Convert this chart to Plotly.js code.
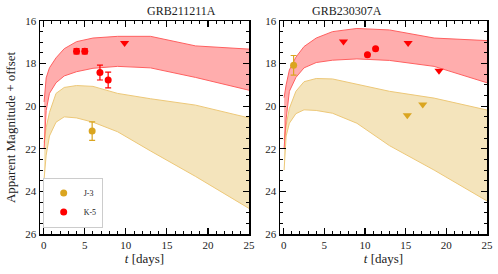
<!DOCTYPE html>
<html>
<head>
<meta charset="utf-8">
<script src="https://cdn.plot.ly/plotly-3.0.1.min.js"></script>
<style>html,body{margin:0;padding:0;background:#fff;}#chart{width:498px;height:274px;}</style>
</head>
<body>
<div id="chart"></div>
<script>
// Model time grid (days)
const tGrid = [0.05, 0.3, 0.7, 1.5, 2.5, 4, 6, 9, 13, 18.5, 25];

// GRB211211A bands
const a_K5_upper = [19.8, 18.67, 18.2, 17.73, 17.3, 16.97, 16.8, 16.72, 16.72, 17.17, 17.32];
const a_K5_lower = [22.0, 20.2, 19.4, 18.9, 18.58, 18.38, 18.22, 18.13, 18.2, 18.65, 19.25];
const a_J3_upper = [21.7, 21.0, 20.3, 19.4, 19.12, 19.03, 19.07, 19.4, 19.65, 19.95, 20.55];
const a_J3_lower = [23.4, 22.3, 21.4, 20.75, 20.5, 20.55, 20.75, 21.2, 22.1, 23.3, 24.8];

// GRB230307A bands
const b_K5_upper = [19.6, 19.0, 18.3, 17.7, 17.2, 16.8, 16.5, 16.35, 16.42, 16.8, 16.92];
const b_K5_lower = [22.0, 20.6, 19.3, 18.65, 18.2, 17.95, 17.84, 17.78, 17.85, 18.13, 18.9];
const b_J3_upper = [21.6, 20.9, 20.1, 19.3, 18.85, 18.7, 18.72, 18.98, 19.3, 19.62, 20.18];
const b_J3_lower = [23.0, 21.4, 20.8, 20.35, 20.17, 20.2, 20.33, 20.8, 21.85, 23.0, 24.45];

// GRB211211A observations
const a_K5_det_t = [4.0, 5.0, 6.85, 7.85];
const a_K5_det_m = [17.42, 17.42, 18.42, 18.77];
const a_K5_det_e = [0.12, 0.12, 0.35, 0.37];
const a_K5_lim_t = [9.85];
const a_K5_lim_m = [17.03];
const a_J3_det_t = [5.9];
const a_J3_det_m = [21.17];
const a_J3_det_e = [0.43];

// GRB230307A observations
const b_K5_det_t = [10.3, 11.3];
const b_K5_det_m = [17.58, 17.3];
const b_K5_lim_t = [7.35, 15.3, 19.1];
const b_K5_lim_m = [16.96, 17.03, 18.33];
const b_J3_det_t = [1.22];
const b_J3_det_m = [18.08];
const b_J3_det_e = [0.46];
const b_J3_lim_t = [15.2, 17.1];
const b_J3_lim_m = [20.42, 19.92];

const xTicks = [0, 5, 10, 15, 20, 25];
const yTicks = [16, 18, 20, 22, 24, 26];

const RED = '#ff0000', RED_LINE = '#ff6060', RED_FILL = 'rgba(255,0,0,0.32)';
const GOLD = '#daa520', GOLD_LINE = '#edc878', GOLD_FILL = 'rgba(218,165,32,0.3)';

function band(up, lo, xa, ya, lineCol, fillCol) {
  return [
    {x: tGrid, y: up, xaxis: xa, yaxis: ya, mode: 'lines', line: {color: lineCol, width: 1}, showlegend: false, hoverinfo: 'skip'},
    {x: tGrid, y: lo, xaxis: xa, yaxis: ya, mode: 'lines', line: {color: lineCol, width: 1}, fill: 'tonexty', fillcolor: fillCol, showlegend: false, hoverinfo: 'skip'}
  ];
}
function det(t, m, e, xa, ya, col, name, leg) {
  return {x: t, y: m, xaxis: xa, yaxis: ya, mode: 'markers', name: name, showlegend: leg,
    marker: {color: col, size: 7, symbol: 'circle'},
    error_y: e ? {type: 'data', array: e, visible: true, color: col, thickness: 1.2, width: 3} : undefined};
}
function lim(t, m, xa, ya, col) {
  return {x: t, y: m, xaxis: xa, yaxis: ya, mode: 'markers', showlegend: false,
    marker: {color: col, size: 8, symbol: 'triangle-down'}};
}

const traces = [].concat(
  band(a_J3_upper, a_J3_lower, 'x', 'y', GOLD_LINE, GOLD_FILL),
  band(a_K5_upper, a_K5_lower, 'x', 'y', RED_LINE, RED_FILL),
  band(b_J3_upper, b_J3_lower, 'x2', 'y2', GOLD_LINE, GOLD_FILL),
  band(b_K5_upper, b_K5_lower, 'x2', 'y2', RED_LINE, RED_FILL),
  [
    det(a_J3_det_t, a_J3_det_m, a_J3_det_e, 'x', 'y', GOLD, 'J-3', true),
    det(a_K5_det_t, a_K5_det_m, a_K5_det_e, 'x', 'y', RED, 'K-5', true),
    lim(a_K5_lim_t, a_K5_lim_m, 'x', 'y', RED),
    det(b_J3_det_t, b_J3_det_m, b_J3_det_e, 'x2', 'y2', GOLD, 'J-3', false),
    det(b_K5_det_t, b_K5_det_m, null, 'x2', 'y2', RED, 'K-5', false),
    lim(b_K5_lim_t, b_K5_lim_m, 'x2', 'y2', RED),
    lim(b_J3_lim_t, b_J3_lim_m, 'x2', 'y2', GOLD)
  ]
);

const FONT = 'Liberation Serif';
function xax(domain, anchor) {
  return {domain: domain, anchor: anchor, range: [-0.45, 25], tickvals: xTicks, ticktext: xTicks.map(String),
    ticks: 'inside', ticklen: 6, tickwidth: 1.2, tickcolor: '#000', mirror: 'allticks',
    showline: true, linecolor: '#000', linewidth: 1.5, showgrid: false, zeroline: false,
    minor: {dtick: 1, ticks: 'inside', ticklen: 3, tickwidth: 1, tickcolor: '#000', showgrid: false},
    tickfont: {family: FONT, size: 11, color: '#222'},
    title: {text: '<i>t</i> [days]', font: {family: FONT, size: 13, color: '#222'}, standoff: 3}};
}
function yax(anchor, title) {
  return {anchor: anchor, domain: [0, 1], range: [26, 16], tickvals: yTicks, ticktext: yTicks.map(String),
    ticks: 'inside', ticklen: 6, tickwidth: 1.2, tickcolor: '#000', mirror: 'allticks',
    showline: true, linecolor: '#000', linewidth: 1.5, showgrid: false, zeroline: false,
    minor: {dtick: 0.5, ticks: 'inside', ticklen: 3, tickwidth: 1, tickcolor: '#000', showgrid: false},
    tickfont: {family: FONT, size: 11, color: '#222'},
    title: title ? {text: title, font: {family: FONT, size: 13, color: '#222'}, standoff: 6} : undefined};
}

const layout = {
  width: 498, height: 274,
  margin: {l: 40, r: 11, t: 21, b: 40},
  paper_bgcolor: '#fff', plot_bgcolor: '#fff',
  font: {family: FONT, color: '#222'},
  xaxis: xax([0, 0.4676], 'y'),
  yaxis: yax('x', 'Apparent Magnitude + offset'),
  xaxis2: xax([0.537, 1], 'y2'),
  yaxis2: yax('x2', null),
  showlegend: true,
  legend: {x: 0.006, y: 0.03, xanchor: 'left', yanchor: 'bottom', bgcolor: '#fff', traceorder: 'normal',
    bordercolor: '#cccccc', borderwidth: 1, font: {family: FONT, size: 8, color: '#222'},
    itemwidth: 30, tracegroupgap: 0},
  annotations: [
    {text: 'GRB211211A', xref: 'paper', yref: 'paper', x: 0.2338, y: 1, yanchor: 'bottom', yshift: 1, showarrow: false, font: {family: FONT, size: 12, color: '#222'}},
    {text: 'GRB230307A', xref: 'paper', yref: 'paper', x: 0.7685, y: 1, yanchor: 'bottom', yshift: 1, showarrow: false, font: {family: FONT, size: 12, color: '#222'}}
  ]
};

Plotly.newPlot('chart', traces, layout, {staticPlot: true, displayModeBar: false});
</script>
</body>
</html>
